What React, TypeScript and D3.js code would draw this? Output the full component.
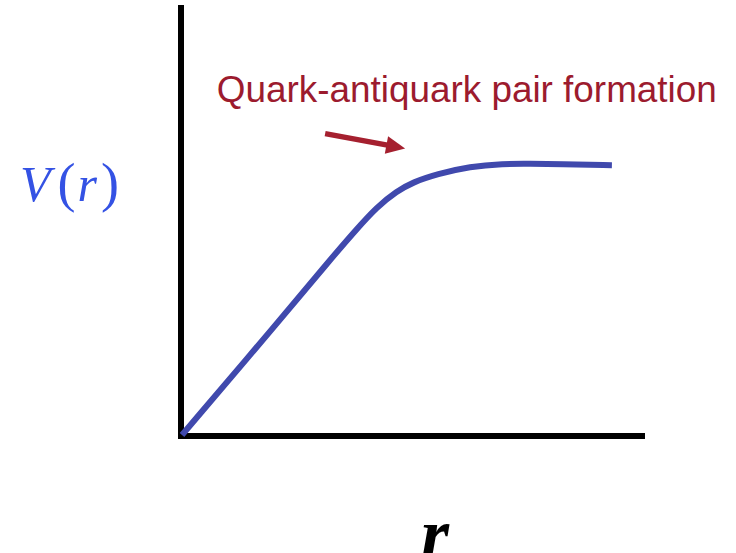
import React, { useEffect, useRef } from "react";
import * as d3 from "d3";

const rValues = [0, 2.28, 3.44, 4.02, 4.53, 5.0, 5.37, 5.93, 6.7, 7.47, 8.09, 8.79, 10];
const vValues = [0, 2.56, 3.89, 4.53, 5.07, 5.42, 5.62, 5.8, 5.97, 6.03, 6.03, 6.02, 6.0];
const xDomain = [0, 10.77];
const yDomain = [0, 9.56];
const annotationText = "Quark-antiquark pair formation";
const arrowFrom = [3.33, 6.7];
const arrowTo = [5.19, 6.37];
const annotationPos = [0.81, 7.4];
const xLabel = "r";

const W = 736;
const H = 553;

export default function App() {
  const ref = useRef<SVGSVGElement>(null);

  useEffect(() => {
    const svg = d3.select(ref.current);
    svg.selectAll("*").remove();

    const x = d3.scaleLinear().domain(xDomain).range([182, 645]);
    const y = d3.scaleLinear().domain(yDomain).range([435, 5]);

    // axes
    svg.append("line")
      .attr("x1", x(0) - 1).attr("x2", x(0) - 1)
      .attr("y1", y(yDomain[1])).attr("y2", y(0) + 4)
      .attr("stroke", "#000").attr("stroke-width", 6);
    svg.append("line")
      .attr("x1", x(0) - 4).attr("x2", x(xDomain[1]))
      .attr("y1", y(0) + 1).attr("y2", y(0) + 1)
      .attr("stroke", "#000").attr("stroke-width", 6);

    // curve
    const pts = rValues.map((r, i) => [r, vValues[i]] as [number, number]);
    const line = d3.line<[number, number]>()
      .x(d => x(d[0])).y(d => y(d[1]))
      .curve(d3.curveBasis);
    svg.append("path")
      .attr("d", line(pts))
      .attr("fill", "none")
      .attr("stroke", "#4049ad")
      .attr("stroke-width", 6)
      .attr("stroke-linecap", "butt");

    // arrow
    const x0 = x(arrowFrom[0]), y0 = y(arrowFrom[1]);
    const x1 = x(arrowTo[0]), y1 = y(arrowTo[1]);
    const ang = Math.atan2(y1 - y0, x1 - x0);
    const headLen = 19, headHalf = 9, shaftHalf = 2.7;
    const bx = x1 - headLen * Math.cos(ang), by = y1 - headLen * Math.sin(ang);
    const nx = -Math.sin(ang), ny = Math.cos(ang);
    svg.append("line")
      .attr("x1", x0).attr("y1", y0).attr("x2", bx + 1 * Math.cos(ang)).attr("y2", by + 1 * Math.sin(ang))
      .attr("stroke", "#a5202f").attr("stroke-width", shaftHalf * 2);
    svg.append("polygon")
      .attr("points", [[x1, y1], [bx + nx * headHalf, by + ny * headHalf], [bx - nx * headHalf, by - ny * headHalf]].map(p => p.join(",")).join(" "))
      .attr("fill", "#a5202f");

    // annotation text
    svg.append("text")
      .attr("x", x(annotationPos[0])).attr("y", y(annotationPos[1]))
      .attr("font-family", "Liberation Sans, Arial, sans-serif")
      .attr("font-size", 36)
      .attr("fill", "#9c1b2e")
      .attr("textLength", 500)
      .attr("lengthAdjust", "spacingAndGlyphs")
      .text(annotationText);

    // y label V(r)
    const yl = svg.append("text")
      .attr("x", 20).attr("y", 201)
      .attr("font-family", "Liberation Serif, 'Times New Roman', serif")
      .attr("font-size", 50)
      .attr("fill", "#3452e4");
    yl.append("tspan").attr("font-style", "italic").text("V");
    yl.append("tspan").attr("dx", 7).attr("font-size", 54).text("(");
    yl.append("tspan").attr("font-style", "italic").attr("dx", 2).text("r");
    yl.append("tspan").attr("dx", 4).attr("font-size", 54).text(")");

    // x label
    svg.append("text")
      .attr("x", 421).attr("y", 558)
      .attr("font-family", "Liberation Serif, 'Times New Roman', serif")
      .attr("font-size", 72)
      .attr("font-style", "italic")
      .attr("font-weight", "bold")
      .attr("fill", "#000")
      .text(xLabel);
  }, []);

  return (
    <svg
      ref={ref}
      width={W}
      height={H}
      style={{ position: "absolute", left: 0, top: 0, background: "#fff" }}
    />
  );
}
